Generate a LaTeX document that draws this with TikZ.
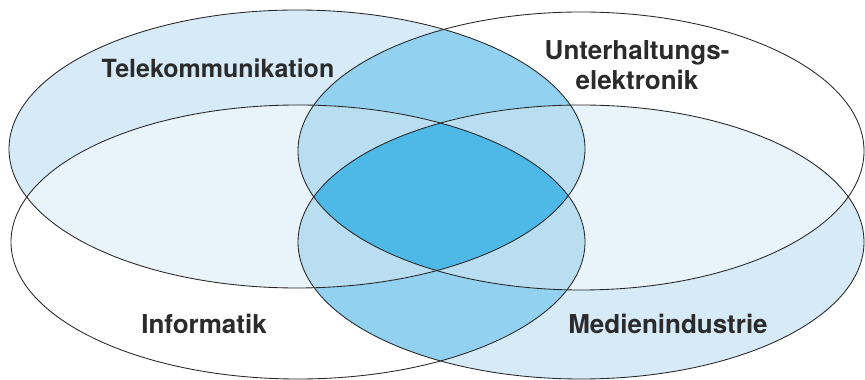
\documentclass[tikz,border=0pt]{standalone}
\usepackage{fontspec}
\setmainfont{TeX Gyre Heros}
\definecolor{paper}{HTML}{FFFFFF}
\definecolor{lightA}{HTML}{D6EAF7}
\definecolor{veryLight}{HTML}{E8F3FA}
\definecolor{midBlue}{HTML}{92D1EF}
\definecolor{threeBlue}{HTML}{B9DEF2}
\definecolor{coreBlue}{HTML}{4EB8E7}
\definecolor{edge}{HTML}{262626}
\definecolor{ink}{HTML}{2B2B2B}
\def\pT{(297,231) ellipse [x radius=288, y radius=139]}
\def\pU{(581,229) ellipse [x radius=283, y radius=139]}
\def\pI{(298,138) ellipse [x radius=287, y radius=137]}
\def\pM{(581,138) ellipse [x radius=283, y radius=137]}
\tikzset{
  lbl/.style={font=\bfseries\fontsize{26}{30}\selectfont, text=ink, align=center, inner sep=0pt},
  rim/.style={draw=edge, line width=0.85pt}
}
\begin{document}
\begin{tikzpicture}[x=1pt,y=1pt]
\useasboundingbox (0,0) rectangle (865,380);
\fill[paper] (0,0) rectangle (865,380);
% single sets
\fill[lightA] \pT;
\fill[lightA] \pM;
% pairs
\begin{scope}\clip \pT; \fill[veryLight] \pI; \end{scope}
\begin{scope}\clip \pU; \fill[veryLight] \pM; \end{scope}
\begin{scope}\clip \pT; \fill[midBlue] \pU; \end{scope}
\begin{scope}\clip \pI; \fill[midBlue] \pM; \end{scope}
% triples
\begin{scope}\clip \pT; \clip \pU; \fill[threeBlue] \pI; \end{scope}
\begin{scope}\clip \pT; \clip \pU; \fill[threeBlue] \pM; \end{scope}
\begin{scope}\clip \pT; \clip \pI; \fill[threeBlue] \pM; \end{scope}
\begin{scope}\clip \pU; \clip \pI; \fill[threeBlue] \pM; \end{scope}
% all four
\begin{scope}\clip \pT; \clip \pU; \clip \pI; \fill[coreBlue] \pM; \end{scope}
% outlines
\draw[rim] \pT;
\draw[rim] \pU;
\draw[rim] \pI;
\draw[rim] \pM;
% labels
\node[lbl, font=\bfseries\fontsize{25}{30}\selectfont] (tele) at (218,312) {Telekommunikation};
\node[lbl] (unter) at (637,315) {Unterhaltungs-\\elektronik};
\node[lbl] (info) at (204,56) {Informatik};
\node[lbl] (medien) at (668,56) {Medienindustrie};
\end{tikzpicture}
\end{document}
